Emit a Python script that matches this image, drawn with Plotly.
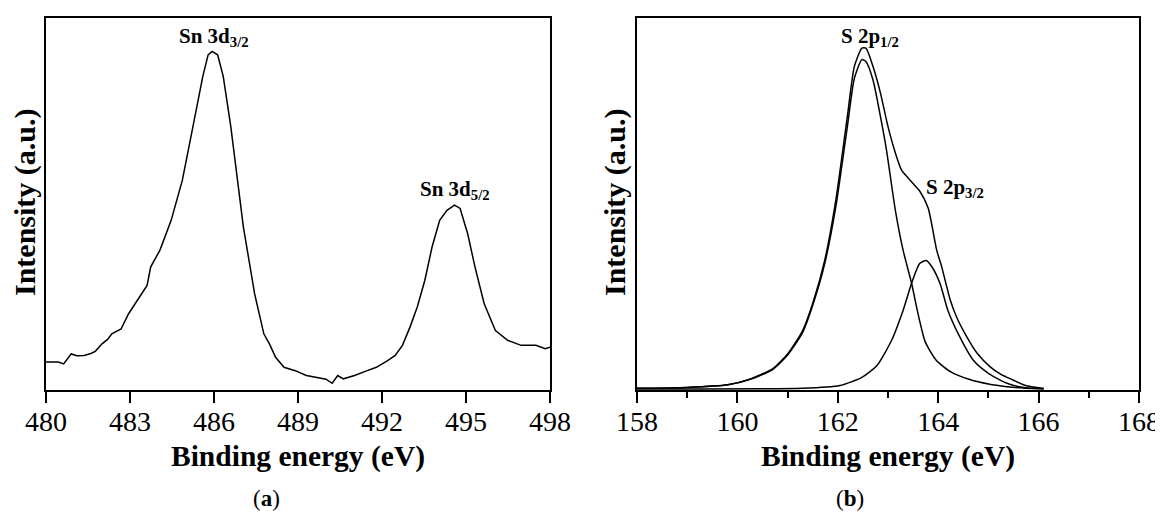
import plotly.graph_objects as go

# ---------------- Panel (a): Sn 3d ----------------
sn_energy = [480.0, 480.44, 480.63, 480.9, 481.1, 481.36, 481.6, 481.76, 482.0, 482.2, 482.35,
             482.68, 482.95, 483.34, 483.61, 483.74, 484.07, 484.47, 484.87, 485.2, 485.6,
             485.79, 485.93, 486.13, 486.33, 486.6, 486.78, 487.05, 487.45, 487.78, 487.98,
             488.2, 488.5, 488.9, 489.3, 489.69, 490.0, 490.22, 490.42, 490.62, 491.02, 491.4,
             491.8, 492.2, 492.47, 492.73, 493.0, 493.26, 493.53, 493.79, 494.06, 494.32,
             494.59, 494.79, 495.06, 495.32, 495.65, 496.05, 496.5, 496.97, 497.5, 497.83, 498.0]
sn_intensity = [7.5, 7.5, 7.0, 9.7, 9.2, 9.3, 9.8, 10.4, 12.4, 13.6, 15.1,
                16.4, 20.5, 25.0, 28.1, 33.1, 37.6, 45.6, 56.4, 69.0, 84.3,
                90.1, 91.0, 90.1, 84.3, 70.8, 60.0, 43.8, 25.9, 15.1, 12.4,
                8.8, 6.1, 5.2, 3.9, 3.4, 2.9, 1.8, 3.9, 3.0, 3.9, 5.0,
                6.1, 7.9, 9.3, 12.0, 16.9, 22.3, 29.5, 38.5, 45.6, 48.3,
                49.7, 48.8, 42.0, 33.1, 23.2, 16.0, 13.3, 12.0, 12.0, 11.1, 11.5]

# ---------------- Panel (b): S 2p ----------------
s_env_energy = [158.0, 159.0, 159.81, 160.26, 160.7, 161.0, 161.3, 161.52, 161.74, 161.96,
                162.19, 162.33, 162.48, 162.56, 162.7, 162.85, 163.0, 163.15, 163.27, 163.4,
                163.52, 163.64, 163.8, 163.97, 164.07, 164.24, 164.37, 164.57, 164.78, 165.03,
                165.25, 165.49, 165.74, 166.1]
s_env_intensity = [0.45, 0.7, 1.4, 3.0, 5.7, 9.7, 16.0, 24.1, 34.9, 51.0,
                   73.5, 87.0, 91.9, 91.9, 87.0, 79.8, 70.8, 63.6, 59.1, 57.0,
                   55.2, 53.3, 48.9, 37.6, 33.1, 24.2, 19.5, 14.3, 9.8, 6.3,
                   4.2, 2.7, 1.2, 0.4]

s_p12_energy = [158.0, 159.0, 159.81, 160.26, 160.7, 161.0, 161.3, 161.52, 161.74, 161.96,
                162.19, 162.33, 162.48, 162.56, 162.7, 162.85, 162.97, 163.15, 163.3, 163.47,
                163.59, 163.74, 163.96, 164.26, 164.63, 165.0, 165.37, 165.74, 166.1]
s_p12_intensity = [0.45, 0.7, 1.4, 2.9, 5.5, 9.4, 15.5, 23.6, 34.0, 49.2,
                   70.8, 83.8, 88.8, 88.3, 83.4, 73.5, 64.5, 48.0, 37.6, 28.7,
                   21.0, 13.0, 8.0, 4.8, 2.8, 1.6, 0.9, 0.5, 0.4]

s_p32_energy = [158.0, 161.3, 162.04, 162.48, 162.78, 163.07, 163.3, 163.47, 163.63, 163.76,
                163.88, 164.04, 164.19, 164.41, 164.7, 165.0, 165.37, 165.74, 166.1]
s_p32_intensity = [0.3, 0.45, 1.2, 3.4, 6.6, 13.3, 21.4, 28.7, 34.0, 34.8,
                   33.0, 28.5, 21.5, 14.8, 8.0, 4.5, 1.8, 0.6, 0.3]

# tick labels
a_ticks = [480, 483, 486, 489, 492, 495, 498]
b_ticks = [158, 160, 162, 164, 166, 168]
b_minor = [159, 161, 163, 165, 167]

# page geometry (the page body adds an 8 px margin)
PW, PH, OFF = 1163, 512, 8
FW, FH = PW - OFF, PH - OFF


def px(p):
    return (p - OFF) / FW


def py(p):
    return 1 - (p - OFF) / FH


serif = "Liberation Serif, Times New Roman, DejaVu Serif, serif"

fig = go.Figure()
fig.add_trace(go.Scatter(x=sn_energy, y=sn_intensity, mode="lines",
                         line=dict(color="black", width=1.5),
                         xaxis="x", yaxis="y", showlegend=False))
spl = dict(color="black", width=1.5, shape="spline", smoothing=0.6)
fig.add_trace(go.Scatter(x=s_env_energy, y=s_env_intensity, mode="lines", line=spl,
                         xaxis="x2", yaxis="y2", showlegend=False))
fig.add_trace(go.Scatter(x=s_p12_energy, y=s_p12_intensity, mode="lines", line=spl,
                         xaxis="x2", yaxis="y2", showlegend=False))
fig.add_trace(go.Scatter(x=s_p32_energy, y=s_p32_intensity, mode="lines", line=spl,
                         xaxis="x2", yaxis="y2", showlegend=False))

ydom = [py(390), py(18)]
xa_dom = [px(46), px(550)]
xb_dom = [px(637), px(1139)]

tickfont = dict(family=serif, size=28, color="black")
common_x = dict(showline=True, linecolor="black", linewidth=2, mirror=True,
                ticks="outside", ticklen=11, tickwidth=2, tickcolor="black",
                showgrid=False, zeroline=False, tickfont=tickfont, automargin=False,
                ticklabelstandoff=-6)
common_y = dict(showline=True, linecolor="black", linewidth=2, mirror=True,
                ticks="", showticklabels=False, showgrid=False, zeroline=False,
                range=[0, 100], automargin=False)

fig.update_layout(
    template="none",
    autosize=False,
    width=FW, height=FH,
    margin=dict(l=0, r=0, t=0, b=0, pad=0),
    paper_bgcolor="white", plot_bgcolor="white",
    font=dict(family=serif, color="black"),
    xaxis=dict(domain=xa_dom, anchor="y", range=[480, 498],
               tickvals=a_ticks, ticktext=[str(v) for v in a_ticks], **common_x),
    yaxis=dict(domain=ydom, anchor="x", **common_y),
    xaxis2=dict(domain=xb_dom, anchor="y2", range=[158, 168],
                tickvals=b_ticks, ticktext=[str(v) for v in b_ticks],
                minor=dict(tickvals=b_minor, ticks="outside", ticklen=6,
                           tickwidth=2, tickcolor="black", showgrid=False),
                **common_x),
    yaxis2=dict(domain=ydom, anchor="x2", **common_y),
)

xt_font = dict(family=serif, size=29.5, color="black")
yt_font = dict(family=serif, size=30, color="black")
ann = []
ann.append(dict(text="<b>Binding energy (eV)</b>", x=px(298), y=py(456),
                xref="paper", yref="paper", showarrow=False, font=xt_font,
                xanchor="center", yanchor="middle"))
ann.append(dict(text="<b>Binding energy (eV)</b>", x=px(888), y=py(456),
                xref="paper", yref="paper", showarrow=False, font=xt_font,
                xanchor="center", yanchor="middle"))
ann.append(dict(text="<b>Intensity (a.u.)</b>", x=px(25), y=py(202),
                xref="paper", yref="paper", showarrow=False, font=yt_font,
                textangle=-90, xanchor="center", yanchor="middle"))
ann.append(dict(text="<b>Intensity (a.u.)</b>", x=px(615), y=py(202),
                xref="paper", yref="paper", showarrow=False, font=yt_font,
                textangle=-90, xanchor="center", yanchor="middle"))
lab_font = dict(family=serif, size=23, color="black")
ann.append(dict(text="(<b>a</b>)", x=px(266), y=py(498), xref="paper", yref="paper",
                showarrow=False, font=lab_font, xanchor="center", yanchor="middle"))
ann.append(dict(text="(<b>b</b>)", x=px(850), y=py(498), xref="paper", yref="paper",
                showarrow=False, font=lab_font, xanchor="center", yanchor="middle"))
pk_font = dict(family=serif, size=21, color="black")
ann.append(dict(text="<b>Sn 3d<sub>3/2</sub></b>", x=486.0, y=95.0, xref="x", yref="y",
                showarrow=False, font=pk_font, xanchor="center", yanchor="middle"))
ann.append(dict(text="<b>Sn 3d<sub>5/2</sub></b>", x=494.6, y=53.8, xref="x", yref="y",
                showarrow=False, font=pk_font, xanchor="center", yanchor="middle"))
ann.append(dict(text="<b>S 2p<sub>1/2</sub></b>", x=162.64, y=95.0, xref="x2", yref="y2",
                showarrow=False, font=pk_font, xanchor="center", yanchor="middle"))
ann.append(dict(text="<b>S 2p<sub>3/2</sub></b>", x=164.33, y=54.3, xref="x2", yref="y2",
                showarrow=False, font=pk_font, xanchor="center", yanchor="middle"))

fig.update_layout(annotations=ann)
fig.write_html("out.html")
